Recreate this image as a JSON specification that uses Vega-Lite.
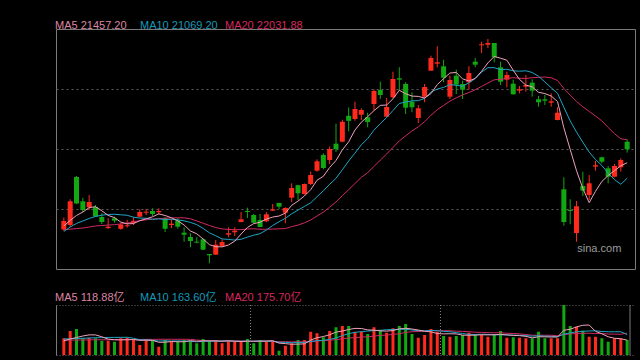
{
"$schema": "https://vega.github.io/schema/vega-lite/v6.json",
"background": "#000000",
"padding": {"left": 43, "top": 19, "right": 6, "bottom": 4},
"config": {"font": "Liberation Sans, Noto Sans CJK SC, sans-serif", "view": {"fill": "#000000"},
  "legend": {"orient": "none", "direction": "horizontal", "title": null, "symbolSize": 0, "symbolStrokeWidth": 0, "symbolOpacity": 0, "labelOffset": 0, "labelFontSize": 11, "labelFont": "Liberation Sans, Noto Sans CJK SC", "padding": 0}},
"datasets": {
"k": [
{"d":0,"o":19788,"h":20088,"l":19750,"c":20000,"v":134,"ma5":19875,"ma10":19738,"ma20":19783,"vma5":114,"vma10":128,"vma20":118},
{"d":1,"o":19900,"h":20543,"l":19850,"c":20493,"v":192,"ma5":20013,"ma10":19850,"ma20":19795,"vma5":128,"vma10":130,"vma20":119},
{"d":2,"o":21100,"h":21125,"l":20425,"c":20438,"v":208,"ma5":20138,"ma10":19938,"ma20":19810,"vma5":140,"vma10":132,"vma20":120},
{"d":3,"o":20493,"h":20583,"l":20213,"c":20275,"v":134,"ma5":20225,"ma10":20000,"ma20":19825,"vma5":152,"vma10":134,"vma20":120},
{"d":4,"o":20343,"h":20650,"l":20275,"c":20475,"v":138,"ma5":20335,"ma10":20063,"ma20":19850,"vma5":161,"vma10":136,"vma20":121},
{"d":5,"o":20350,"h":20400,"l":20100,"c":20113,"v":134,"ma5":20358,"ma10":20113,"ma20":19875,"vma5":161,"vma10":138,"vma20":122},
{"d":6,"o":20100,"h":20195,"l":19925,"c":19975,"v":114,"ma5":20255,"ma10":20145,"ma20":19888,"vma5":146,"vma10":139,"vma20":122},
{"d":7,"o":19825,"h":20068,"l":19800,"c":19858,"v":114,"ma5":20140,"ma10":20163,"ma20":19898,"vma5":127,"vma10":140,"vma20":122},
{"d":8,"o":20068,"h":20108,"l":19958,"c":20008,"v":106,"ma5":20085,"ma10":20168,"ma20":19908,"vma5":122,"vma10":141,"vma20":122},
{"d":9,"o":19805,"h":19958,"l":19783,"c":19913,"v":134,"ma5":19973,"ma10":20155,"ma20":19925,"vma5":121,"vma10":141,"vma20":123},
{"d":10,"o":19868,"h":20030,"l":19833,"c":19893,"v":138,"ma5":19930,"ma10":20143,"ma20":19950,"vma5":122,"vma10":142,"vma20":123},
{"d":11,"o":19950,"h":20093,"l":19900,"c":20005,"v":126,"ma5":19935,"ma10":20095,"ma20":19975,"vma5":124,"vma10":134,"vma20":124},
{"d":12,"o":20108,"h":20293,"l":20093,"c":20225,"v":80,"ma5":20008,"ma10":20073,"ma20":20008,"vma5":117,"vma10":122,"vma20":124},
{"d":13,"o":20208,"h":20300,"l":20150,"c":20233,"v":120,"ma5":20053,"ma10":20070,"ma20":20030,"vma5":119,"vma10":121,"vma20":125},
{"d":14,"o":20250,"h":20318,"l":20125,"c":20175,"v":120,"ma5":20105,"ma10":20040,"ma20":20048,"vma5":117,"vma10":118,"vma20":125},
{"d":15,"o":20218,"h":20318,"l":20168,"c":20250,"v":66,"ma5":20178,"ma10":20053,"ma20":20060,"vma5":102,"vma10":112,"vma20":126},
{"d":16,"o":20070,"h":20100,"l":19725,"c":19805,"v":120,"ma5":20138,"ma10":20035,"ma20":20070,"vma5":102,"vma10":113,"vma20":126},
{"d":17,"o":19900,"h":20038,"l":19820,"c":19933,"v":112,"ma5":20080,"ma10":20043,"ma20":20078,"vma5":108,"vma10":112,"vma20":126},
{"d":18,"o":20013,"h":20075,"l":19808,"c":19858,"v":112,"ma5":20005,"ma10":20028,"ma20":20080,"vma5":106,"vma10":113,"vma20":126},
{"d":19,"o":19708,"h":19843,"l":19483,"c":19658,"v":120,"ma5":19900,"ma10":20003,"ma20":20080,"vma5":106,"vma10":111,"vma20":126},
{"d":20,"o":19600,"h":19693,"l":19343,"c":19500,"v":112,"ma5":19750,"ma10":19965,"ma20":20055,"vma5":115,"vma10":109,"vma20":125},
{"d":21,"o":19483,"h":19593,"l":19443,"c":19458,"v":94,"ma5":19680,"ma10":19910,"ma20":20003,"vma5":110,"vma10":106,"vma20":120},
{"d":22,"o":19543,"h":19563,"l":19275,"c":19283,"v":128,"ma5":19550,"ma10":19815,"ma20":19945,"vma5":113,"vma10":110,"vma20":116},
{"d":23,"o":19175,"h":19175,"l":18943,"c":19143,"v":112,"ma5":19408,"ma10":19705,"ma20":19888,"vma5":113,"vma10":110,"vma20":115},
{"d":24,"o":19158,"h":19525,"l":19150,"c":19408,"v":120,"ma5":19358,"ma10":19630,"ma20":19835,"vma5":113,"vma10":110,"vma20":114},
{"d":25,"o":19375,"h":19543,"l":19358,"c":19475,"v":94,"ma5":19353,"ma10":19553,"ma20":19803,"vma5":110,"vma10":112,"vma20":112},
{"d":26,"o":19658,"h":19843,"l":19593,"c":19693,"v":114,"ma5":19400,"ma10":19540,"ma20":19788,"vma5":114,"vma10":112,"vma20":112},
{"d":27,"o":19718,"h":19843,"l":19625,"c":19758,"v":106,"ma5":19495,"ma10":19523,"ma20":19783,"vma5":110,"vma10":111,"vma20":112},
{"d":28,"o":19975,"h":20225,"l":19968,"c":20043,"v":106,"ma5":19675,"ma10":19543,"ma20":19785,"vma5":108,"vma10":110,"vma20":112},
{"d":29,"o":20250,"h":20333,"l":20075,"c":20225,"v":128,"ma5":19838,"ma10":19598,"ma20":19800,"vma5":110,"vma10":111,"vma20":111},
{"d":30,"o":20150,"h":20175,"l":19943,"c":19958,"v":94,"ma5":19935,"ma10":19645,"ma20":19805,"vma5":110,"vma10":110,"vma20":110},
{"d":31,"o":20025,"h":20175,"l":19843,"c":19850,"v":120,"ma5":19968,"ma10":19683,"ma20":19795,"vma5":111,"vma10":112,"vma20":109},
{"d":32,"o":19993,"h":20225,"l":19975,"c":20168,"v":112,"ma5":20048,"ma10":19773,"ma20":19793,"vma5":112,"vma10":110,"vma20":110},
{"d":33,"o":20258,"h":20425,"l":20250,"c":20293,"v":114,"ma5":20098,"ma10":19888,"ma20":19798,"vma5":114,"vma10":111,"vma20":110},
{"d":34,"o":20450,"h":20458,"l":20293,"c":20358,"v":34,"ma5":20125,"ma10":19983,"ma20":19805,"vma5":95,"vma10":102,"vma20":106},
{"d":35,"o":20208,"h":20343,"l":19943,"c":20325,"v":74,"ma5":20198,"ma10":20068,"ma20":19810,"vma5":91,"vma10":101,"vma20":106},
{"d":36,"o":20583,"h":20943,"l":20475,"c":20825,"v":94,"ma5":20393,"ma10":20180,"ma20":19860,"vma5":86,"vma10":98,"vma20":105},
{"d":37,"o":20895,"h":20905,"l":20525,"c":20693,"v":120,"ma5":20498,"ma10":20273,"ma20":19898,"vma5":87,"vma10":100,"vma20":106},
{"d":38,"o":20675,"h":20938,"l":20663,"c":20925,"v":120,"ma5":20625,"ma10":20363,"ma20":19953,"vma5":89,"vma10":101,"vma20":106},
{"d":39,"o":20925,"h":21238,"l":20900,"c":21150,"v":186,"ma5":20783,"ma10":20455,"ma20":20025,"vma5":119,"vma10":107,"vma20":109},
{"d":40,"o":21258,"h":21543,"l":21233,"c":21493,"v":174,"ma5":21018,"ma10":20608,"ma20":20125,"vma5":138,"vma10":115,"vma20":112},
{"d":41,"o":21650,"h":21693,"l":21293,"c":21325,"v":142,"ma5":21118,"ma10":20755,"ma20":20220,"vma5":148,"vma10":117,"vma20":114},
{"d":42,"o":21525,"h":21863,"l":21425,"c":21800,"v":192,"ma5":21338,"ma10":20918,"ma20":20345,"vma5":162,"vma10":125,"vma20":118},
{"d":43,"o":21933,"h":22433,"l":21725,"c":21795,"v":222,"ma5":21513,"ma10":21068,"ma20":20478,"vma5":183,"vma10":136,"vma20":123},
{"d":44,"o":21983,"h":22533,"l":21968,"c":22480,"v":232,"ma5":21778,"ma10":21280,"ma20":20633,"vma5":192,"vma10":155,"vma20":129},
{"d":45,"o":22630,"h":22838,"l":22243,"c":22505,"v":232,"ma5":21980,"ma10":21500,"ma20":20783,"vma5":204,"vma10":171,"vma20":136},
{"d":46,"o":22550,"h":22983,"l":22505,"c":22800,"v":186,"ma5":22275,"ma10":21698,"ma20":20938,"vma5":213,"vma10":181,"vma20":139},
{"d":47,"o":22658,"h":22818,"l":22525,"c":22775,"v":186,"ma5":22470,"ma10":21905,"ma20":21090,"vma5":212,"vma10":187,"vma20":143},
{"d":48,"o":22593,"h":22708,"l":22343,"c":22475,"v":168,"ma5":22608,"ma10":22060,"ma20":21210,"vma5":201,"vma10":192,"vma20":146},
{"d":49,"o":22925,"h":23293,"l":22775,"c":23250,"v":222,"ma5":22760,"ma10":22270,"ma20":21363,"vma5":199,"vma10":195,"vma20":151},
{"d":50,"o":23275,"h":23483,"l":23050,"c":23150,"v":200,"ma5":22890,"ma10":22435,"ma20":21523,"vma5":193,"vma10":198,"vma20":157},
{"d":51,"o":22608,"h":23075,"l":22593,"c":22850,"v":178,"ma5":22900,"ma10":22588,"ma20":21673,"vma5":191,"vma10":202,"vma20":159},
{"d":52,"o":23093,"h":23733,"l":23075,"c":23550,"v":214,"ma5":23055,"ma10":22763,"ma20":21840,"vma5":196,"vma10":204,"vma20":165},
{"d":53,"o":23568,"h":23843,"l":23275,"c":23533,"v":232,"ma5":23268,"ma10":22938,"ma20":22003,"vma5":209,"vma10":205,"vma20":170},
{"d":54,"o":23425,"h":23468,"l":22675,"c":22833,"v":248,"ma5":23183,"ma10":22973,"ma20":22128,"vma5":214,"vma10":206,"vma20":181},
{"d":55,"o":22983,"h":23218,"l":22718,"c":22843,"v":168,"ma5":23123,"ma10":23005,"ma20":22253,"vma5":208,"vma10":200,"vma20":186},
{"d":56,"o":22575,"h":22900,"l":22450,"c":22818,"v":138,"ma5":23115,"ma10":23008,"ma20":22353,"vma5":200,"vma10":195,"vma20":188},
{"d":57,"o":23108,"h":23425,"l":22968,"c":23350,"v":160,"ma5":23075,"ma10":23065,"ma20":22485,"vma5":190,"vma10":193,"vma20":190},
{"d":58,"o":23758,"h":24133,"l":23758,"c":24075,"v":208,"ma5":23183,"ma10":23225,"ma20":22643,"vma5":185,"vma10":197,"vma20":194},
{"d":59,"o":23933,"h":24368,"l":23843,"c":23968,"v":186,"ma5":23410,"ma10":23298,"ma20":22783,"vma5":172,"vma10":194,"vma20":194},
{"d":60,"o":23868,"h":24033,"l":23468,"c":23583,"v":152,"ma5":23558,"ma10":23340,"ma20":22888,"vma5":169,"vma10":189,"vma20":194},
{"d":61,"o":23108,"h":23633,"l":23050,"c":23525,"v":146,"ma5":23700,"ma10":23408,"ma20":22998,"vma5":170,"vma10":186,"vma20":194},
{"d":62,"o":23633,"h":23783,"l":23175,"c":23408,"v":152,"ma5":23713,"ma10":23393,"ma20":23078,"vma5":169,"vma10":179,"vma20":191},
{"d":63,"o":23425,"h":23508,"l":23050,"c":23283,"v":160,"ma5":23553,"ma10":23368,"ma20":23153,"vma5":159,"vma10":172,"vma20":189},
{"d":64,"o":23468,"h":23868,"l":23283,"c":23700,"v":178,"ma5":23500,"ma10":23455,"ma20":23213,"vma5":158,"vma10":165,"vma20":186},
{"d":65,"o":23983,"h":24075,"l":23843,"c":23908,"v":160,"ma5":23565,"ma10":23563,"ma20":23283,"vma5":159,"vma10":164,"vma20":182},
{"d":66,"o":24393,"h":24483,"l":24200,"c":24418,"v":160,"ma5":23743,"ma10":23723,"ma20":23365,"vma5":162,"vma10":166,"vma20":181},
{"d":67,"o":24408,"h":24550,"l":24325,"c":24450,"v":146,"ma5":23953,"ma10":23833,"ma20":23448,"vma5":161,"vma10":165,"vma20":179},
{"d":68,"o":24450,"h":24450,"l":23968,"c":24093,"v":166,"ma5":24113,"ma10":23833,"ma20":23530,"vma5":162,"vma10":161,"vma20":178},
{"d":69,"o":23843,"h":23983,"l":23400,"c":23483,"v":192,"ma5":24070,"ma10":23785,"ma20":23540,"vma5":165,"vma10":162,"vma20":178},
{"d":70,"o":23533,"h":23733,"l":23343,"c":23650,"v":138,"ma5":24018,"ma10":23793,"ma20":23565,"vma5":161,"vma10":160,"vma20":174},
{"d":71,"o":23433,"h":23533,"l":23158,"c":23168,"v":142,"ma5":23768,"ma10":23755,"ma20":23583,"vma5":157,"vma10":159,"vma20":172},
{"d":72,"o":23258,"h":23375,"l":23193,"c":23293,"v":138,"ma5":23538,"ma10":23745,"ma20":23568,"vma5":155,"vma10":158,"vma20":169},
{"d":73,"o":23358,"h":23650,"l":23233,"c":23400,"v":134,"ma5":23398,"ma10":23755,"ma20":23563,"vma5":149,"vma10":155,"vma20":164},
{"d":74,"o":23458,"h":23543,"l":23108,"c":23258,"v":134,"ma5":23353,"ma10":23713,"ma20":23583,"vma5":137,"vma10":151,"vma20":158},
{"d":75,"o":23043,"h":23125,"l":22858,"c":22968,"v":186,"ma5":23218,"ma10":23618,"ma20":23590,"vma5":146,"vma10":154,"vma20":159},
{"d":76,"o":23043,"h":23150,"l":22900,"c":23008,"v":134,"ma5":23185,"ma10":23478,"ma20":23600,"vma5":145,"vma10":151,"vma20":158},
{"d":77,"o":22958,"h":23193,"l":22858,"c":22993,"v":134,"ma5":23125,"ma10":23330,"ma20":23580,"vma5":144,"vma10":150,"vma20":158},
{"d":78,"o":22525,"h":22843,"l":22518,"c":22708,"v":134,"ma5":22988,"ma10":23193,"ma20":23513,"vma5":144,"vma10":146,"vma20":154},
{"d":79,"o":20793,"h":21093,"l":19883,"c":19975,"v":400,"ma5":22330,"ma10":22843,"ma20":23313,"vma5":198,"vma10":167,"vma20":164},
{"d":80,"o":20275,"h":20543,"l":19918,"c":20250,"v":232,"ma5":21788,"ma10":22503,"ma20":23148,"vma5":206,"vma10":177,"vma20":168},
{"d":81,"o":19700,"h":20500,"l":19483,"c":20368,"v":226,"ma5":21258,"ma10":22223,"ma20":22988,"vma5":225,"vma10":185,"vma20":172},
{"d":82,"o":20875,"h":21233,"l":20625,"c":20758,"v":194,"ma5":20813,"ma10":21968,"ma20":22855,"vma5":238,"vma10":190,"vma20":174},
{"d":83,"o":20650,"h":21150,"l":20525,"c":20943,"v":146,"ma5":20458,"ma10":21723,"ma20":22740,"vma5":240,"vma10":192,"vma20":174},
{"d":84,"o":21358,"h":21500,"l":21258,"c":21393,"v":146,"ma5":20743,"ma10":21535,"ma20":22625,"vma5":189,"vma10":194,"vma20":172},
{"d":85,"o":21593,"h":21608,"l":21443,"c":21483,"v":134,"ma5":20988,"ma10":21388,"ma20":22503,"vma5":170,"vma10":188,"vma20":171},
{"d":86,"o":21318,"h":21375,"l":20943,"c":21108,"v":106,"ma5":21138,"ma10":21198,"ma20":22338,"vma5":146,"vma10":186,"vma20":168},
{"d":87,"o":21108,"h":21425,"l":21093,"c":21375,"v":134,"ma5":21260,"ma10":21035,"ma20":22183,"vma5":134,"vma10":186,"vma20":167},
{"d":88,"o":21343,"h":21568,"l":21233,"c":21525,"v":134,"ma5":21378,"ma10":20918,"ma20":22055,"vma5":130,"vma10":186,"vma20":166},
{"d":89,"o":21983,"h":22043,"l":21708,"c":21793,"v":120,"ma5":21457.2,"ma10":21069.2,"ma20":22031.88,"vma5":118.88,"vma10":163.6,"vma20":175.7}
],
"months": [{"b": 29.5}, {"b": 59.5}],
"edge": [{"b": 89.45}],
"mark": [{"t": "sina.com"}]
},
"data": {"name": "k"},
"spacing": 22,
"resolve": {"scale": {"color": "independent"}, "legend": {"color": "independent"}},
"vconcat": [
{
"width": 579, "height": 240,
"view": {"stroke": "#7a7a7a", "strokeWidth": 1},
"resolve": {"scale": {"color": "independent"}, "legend": {"color": "independent"}},
"layer": [
{"mark": {"type": "rule", "strokeWidth": 1},
 "encoding": {
  "x": {"field": "d", "type": "quantitative", "scale": {"domain": [-0.45, 89.45], "nice": false, "zero": false}, "axis": null},
  "y": {"field": "l", "type": "quantitative", "scale": {"domain": [18800, 24800], "nice": false, "zero": false},
        "axis": {"values": [20300, 21800, 23300], "grid": true, "gridColor": "#5c5c5c", "gridDash": [2, 3], "labels": false, "ticks": false, "domain": false, "title": null}},
  "y2": {"field": "h"},
  "color": {"condition": {"test": "datum.c >= datum.o", "value": "#ff2a1e"}, "value": "#12a812"}
 }},
{"mark": {"type": "bar", "width": 5},
 "encoding": {
  "x": {"field": "d", "type": "quantitative", "scale": {"domain": [-0.45, 89.45], "nice": false, "zero": false}, "axis": null},
  "y": {"field": "o", "type": "quantitative", "scale": {"domain": [18800, 24800], "nice": false, "zero": false},
        "axis": {"values": [20300, 21800, 23300], "grid": true, "gridColor": "#5c5c5c", "gridDash": [2, 3], "labels": false, "ticks": false, "domain": false, "title": null}},
  "y2": {"field": "c"},
  "color": {"condition": {"test": "datum.c >= datum.o", "value": "#ff2a1e"}, "value": "#12a812"}
 }},
{"mark": {"type": "line", "strokeWidth": 1},
 "encoding": {
  "x": {"field": "d", "type": "quantitative", "scale": {"domain": [-0.45, 89.45], "nice": false, "zero": false}, "axis": null},
  "y": {"field": "ma20", "type": "quantitative", "scale": {"domain": [18800, 24800], "nice": false, "zero": false},
        "axis": {"values": [20300, 21800, 23300], "grid": true, "gridColor": "#5c5c5c", "gridDash": [2, 3], "labels": false, "ticks": false, "domain": false, "title": null}},
  "color": {"datum": "MA20 22031.88", "type": "nominal", "scale": {"range": ["#cf2a62"]},
    "legend": {"legendX": 158, "legendY": -9, "labelColor": "#d8275f"}}
 }},
{"mark": {"type": "line", "strokeWidth": 1},
 "encoding": {
  "x": {"field": "d", "type": "quantitative", "scale": {"domain": [-0.45, 89.45], "nice": false, "zero": false}, "axis": null},
  "y": {"field": "ma10", "type": "quantitative", "scale": {"domain": [18800, 24800], "nice": false, "zero": false},
        "axis": {"values": [20300, 21800, 23300], "grid": true, "gridColor": "#5c5c5c", "gridDash": [2, 3], "labels": false, "ticks": false, "domain": false, "title": null}},
  "color": {"datum": "MA10 21069.20", "type": "nominal", "scale": {"range": ["#1fa6c6"]},
    "legend": {"legendX": 73, "legendY": -9, "labelColor": "#1799b8"}}
 }},
{"mark": {"type": "line", "strokeWidth": 1},
 "encoding": {
  "x": {"field": "d", "type": "quantitative", "scale": {"domain": [-0.45, 89.45], "nice": false, "zero": false}, "axis": null},
  "y": {"field": "ma5", "type": "quantitative", "scale": {"domain": [18800, 24800], "nice": false, "zero": false},
        "axis": {"values": [20300, 21800, 23300], "grid": true, "gridColor": "#5c5c5c", "gridDash": [2, 3], "labels": false, "ticks": false, "domain": false, "title": null}},
  "color": {"datum": "MA5 21457.20", "type": "nominal", "scale": {"range": ["#eda2bb"]},
    "legend": {"legendX": -12, "legendY": -9, "labelColor": "#dc86a3"}}
 }},
{"data": {"name": "mark"},
 "mark": {"type": "text", "fontSize": 11, "color": "#9c9c9c", "font": "Liberation Sans"},
 "encoding": {
  "x": {"datum": 84.6, "type": "quantitative", "scale": {"domain": [-0.45, 89.45], "nice": false, "zero": false}, "axis": null},
  "y": {"datum": 19300, "type": "quantitative", "scale": {"domain": [18800, 24800], "nice": false, "zero": false},
        "axis": {"values": [20300, 21800, 23300], "grid": true, "gridColor": "#5c5c5c", "gridDash": [2, 3], "labels": false, "ticks": false, "domain": false, "title": null}},
  "text": {"field": "t"}
 }}
]
},
{
"width": 579, "height": 50,
"view": {"stroke": null},
"resolve": {"scale": {"color": "independent"}, "legend": {"color": "independent"}},
"layer": [
{"mark": {"type": "bar", "width": 3},
 "encoding": {
  "x": {"field": "d", "type": "quantitative", "scale": {"domain": [-0.45, 89.45], "nice": false, "zero": false}, "axis": null},
  "y": {"field": "v", "type": "quantitative", "scale": {"domain": [0, 400], "nice": false, "zero": false},
        "axis": {"values": [0, 400], "grid": true, "gridColor": "#6a6a6a", "gridDash": [1, 2], "labels": false, "ticks": false, "domain": true, "domainColor": "#7a7a7a", "title": null}},
  "color": {"condition": {"test": "datum.c >= datum.o", "value": "#ff2a1e"}, "value": "#12a812"}
 }},
{"mark": {"type": "line", "strokeWidth": 1},
 "encoding": {
  "x": {"field": "d", "type": "quantitative", "scale": {"domain": [-0.45, 89.45], "nice": false, "zero": false}, "axis": null},
  "y": {"field": "vma20", "type": "quantitative", "scale": {"domain": [0, 400], "nice": false, "zero": false},
        "axis": {"values": [0, 400], "grid": true, "gridColor": "#6a6a6a", "gridDash": [1, 2], "labels": false, "ticks": false, "domain": true, "domainColor": "#7a7a7a", "title": null}},
  "color": {"datum": "MA20 175.70亿", "type": "nominal", "scale": {"range": ["#cf2a62"]},
    "legend": {"legendX": 158, "legendY": -13, "labelColor": "#d8275f"}}
 }},
{"mark": {"type": "line", "strokeWidth": 1},
 "encoding": {
  "x": {"field": "d", "type": "quantitative", "scale": {"domain": [-0.45, 89.45], "nice": false, "zero": false}, "axis": null},
  "y": {"field": "vma10", "type": "quantitative", "scale": {"domain": [0, 400], "nice": false, "zero": false},
        "axis": {"values": [0, 400], "grid": true, "gridColor": "#6a6a6a", "gridDash": [1, 2], "labels": false, "ticks": false, "domain": true, "domainColor": "#7a7a7a", "title": null}},
  "color": {"datum": "MA10 163.60亿", "type": "nominal", "scale": {"range": ["#1fa6c6"]},
    "legend": {"legendX": 73, "legendY": -13, "labelColor": "#1799b8"}}
 }},
{"mark": {"type": "line", "strokeWidth": 1},
 "encoding": {
  "x": {"field": "d", "type": "quantitative", "scale": {"domain": [-0.45, 89.45], "nice": false, "zero": false}, "axis": null},
  "y": {"field": "vma5", "type": "quantitative", "scale": {"domain": [0, 400], "nice": false, "zero": false},
        "axis": {"values": [0, 400], "grid": true, "gridColor": "#6a6a6a", "gridDash": [1, 2], "labels": false, "ticks": false, "domain": true, "domainColor": "#7a7a7a", "title": null}},
  "color": {"datum": "MA5 118.88亿", "type": "nominal", "scale": {"range": ["#eda2bb"]},
    "legend": {"legendX": -12, "legendY": -13, "labelColor": "#dc86a3"}}
 }},
{"data": {"name": "months"},
 "mark": {"type": "rule", "color": "#8a8a8a", "strokeDash": [1, 2], "strokeWidth": 1},
 "encoding": {
  "x": {"field": "b", "type": "quantitative", "scale": {"domain": [-0.45, 89.45], "nice": false, "zero": false}, "axis": null}
 }},
{"data": {"name": "edge"},
 "mark": {"type": "rule", "color": "#7a7a7a", "strokeWidth": 1},
 "encoding": {
  "x": {"field": "b", "type": "quantitative", "scale": {"domain": [-0.45, 89.45], "nice": false, "zero": false}, "axis": null}
 }}
]
}
]
}
